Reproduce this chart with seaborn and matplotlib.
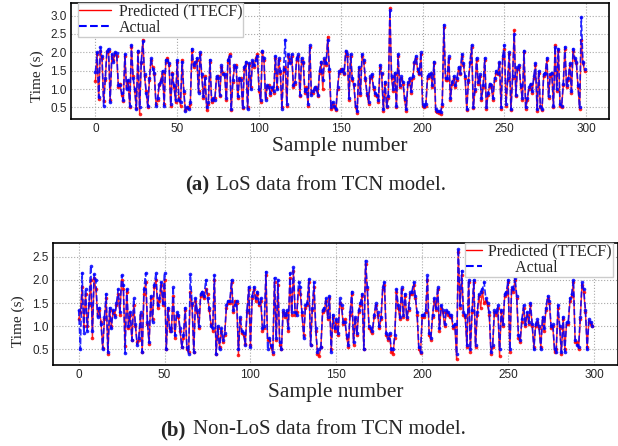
import numpy as np
import pandas as pd
import matplotlib
matplotlib.use("Agg")
import matplotlib.pyplot as plt
from matplotlib.lines import Line2D
import seaborn as sns

# LoS data, TCN model
los_actual = [
    1.47, 2.0, 0.78, 2.15, 1.9, 0.55, 1.3, 2.05, 2.1, 0.65,
    1.95, 1.75, 2.0, 1.98, 1.1, 1.1, 0.9, 0.7, 1.95, 1.0,
    1.25, 0.55, 2.2, 1.3, 1.0, 0.45, 2.05, 0.5, 1.75, 2.3,
    1.4, 0.9, 0.55, 1.3, 1.85, 1.55, 1.45, 0.55, 0.75, 1.15,
    1.2, 1.5, 0.55, 1.8, 1.8, 1.7, 0.6, 1.4, 1.1, 0.7,
    1.8, 0.7, 0.65, 1.75, 0.95, 0.4, 0.5, 0.45, 0.65, 2.1,
    1.65, 1.75, 1.85, 0.9, 2.0, 1.4, 0.8, 1.3, 0.5, 0.65,
    1.8, 0.7, 0.75, 0.7, 1.35, 1.3, 0.85, 1.65, 1.4, 1.4,
    0.75, 1.8, 1.9, 0.45, 1.25, 1.65, 1.6, 0.8, 1.3, 1.25,
    0.5, 1.6, 1.75, 0.45, 1.7, 1.0, 1.8, 1.65, 1.8, 1.9,
    1.0, 0.7, 2.05, 1.85, 0.7, 1.1, 1.05, 0.9, 1.05, 0.95,
    1.9, 1.0, 1.85, 1.5, 0.45, 1.55, 2.35, 0.6, 1.95, 1.7,
    1.95, 1.1, 1.2, 1.85, 1.95, 0.85, 1.85, 1.75, 0.95, 1.0,
    0.6, 2.2, 0.85, 0.95, 1.05, 1.0, 0.85, 1.5, 1.75, 1.25,
    1.85, 1.7, 2.35, 1.55, 0.5, 0.65, 0.55, 0.45, 1.05, 1.5,
    1.5, 1.55, 1.45, 2.05, 1.95, 0.75, 1.95, 1.3, 1.15, 0.55,
    0.4, 1.6, 0.9, 1.95, 1.8, 1.3, 0.9, 0.65, 1.35, 1.4,
    1.05, 0.9, 0.85, 0.7, 1.65, 1.45, 0.45, 1.2, 0.55, 0.8,
    3.15, 1.35, 1.0, 1.45, 0.55, 1.95, 1.1, 1.35, 1.2, 0.75,
    0.45, 1.2, 1.3, 0.95, 1.35, 1.75, 1.9, 1.55, 1.45, 2.0,
    0.6, 0.55, 0.6, 1.35, 1.4, 1.45, 1.1, 1.75, 0.45, 0.4,
    0.4, 0.38, 0.6, 2.75, 1.3, 1.3, 1.9, 0.75, 1.2, 1.35,
    1.1, 1.3, 1.6, 1.45, 1.95, 1.7, 1.35, 0.45, 1.25, 1.75,
    2.2, 0.5, 1.0, 1.85, 1.2, 1.4, 0.75, 1.1, 1.85, 0.5,
    0.9, 1.15, 1.1, 0.75, 1.3, 1.5, 1.45, 1.75, 0.5, 1.9,
    2.2, 0.6, 1.3, 2.0, 0.45, 1.35, 2.5, 0.85, 1.6, 1.65,
    1.1, 0.75, 2.05, 0.5, 0.75, 1.05, 1.15, 0.95, 1.35, 1.7,
    0.45, 1.5, 0.55, 0.45, 1.4, 1.45, 1.85, 0.8, 1.4, 1.45,
    0.55, 2.15, 1.0, 2.1, 0.6, 0.55, 1.15, 2.15, 1.1, 1.3,
    1.7, 0.95, 2.1, 1.85, 1.75, 1.1, 0.5, 2.95, 1.75, 1.55,
]
los_pred = [
    1.22, 1.95, 0.72, 2.05, 1.85, 0.68, 1.25, 2.0, 2.05, 0.7,
    1.9, 1.8, 1.95, 1.9, 1.05, 1.15, 0.85, 0.68, 1.9, 1.05,
    1.2, 0.5, 2.15, 1.35, 0.95, 0.48, 2.0, 0.33, 1.7, 2.35,
    1.35, 0.95, 0.5, 1.25, 1.8, 1.6, 1.4, 0.6, 0.7, 1.1,
    1.25, 1.45, 0.6, 1.75, 1.85, 1.65, 0.55, 1.45, 1.05, 0.65,
    1.75, 0.75, 0.55, 1.8, 0.9, 0.42, 0.48, 0.5, 0.6, 2.05,
    1.6, 1.7, 1.8, 0.95, 1.95, 1.35, 0.75, 1.35, 0.42, 0.6,
    1.75, 0.65, 0.7, 0.75, 1.3, 1.35, 0.8, 1.6, 1.45, 1.35,
    0.7, 1.75, 1.95, 0.42, 1.2, 1.6, 1.65, 0.75, 1.25, 1.3,
    0.48, 1.55, 1.7, 0.5, 1.65, 1.05, 1.75, 1.6, 1.85, 1.95,
    0.95, 0.65, 2.0, 1.8, 0.75, 1.05, 1.1, 0.85, 1.0, 0.9,
    1.85, 1.05, 1.8, 1.45, 0.5, 1.5, 1.6, 0.55, 1.9, 1.75,
    1.9, 1.05, 1.15, 1.8, 1.9, 0.8, 1.8, 1.7, 0.9, 1.05,
    0.55, 2.15, 0.9, 0.9, 1.0, 1.05, 0.8, 1.45, 1.7, 1.0,
    1.8, 1.65, 2.42, 1.5, 0.45, 0.6, 0.5, 0.42, 1.0, 1.45,
    1.55, 1.5, 1.4, 2.0, 1.9, 0.7, 1.9, 1.25, 1.1, 0.5,
    0.35, 1.55, 0.85, 1.9, 1.75, 1.25, 0.85, 0.6, 1.3, 1.35,
    1.0, 0.85, 0.8, 0.65, 1.6, 1.4, 0.4, 1.15, 0.5, 0.75,
    3.2, 1.3, 0.95, 1.4, 0.5, 1.9, 1.05, 1.3, 1.15, 0.7,
    0.4, 1.15, 1.25, 0.9, 1.3, 1.7, 1.85, 1.5, 1.4, 1.95,
    0.55, 0.5, 0.55, 1.3, 1.35, 1.4, 1.05, 1.7, 0.4, 0.38,
    0.35, 0.33, 0.55, 2.7, 1.25, 1.25, 1.85, 0.7, 1.15, 1.3,
    1.05, 1.25, 1.55, 1.4, 1.9, 1.65, 1.3, 0.42, 1.2, 1.7,
    2.15, 0.48, 0.95, 1.8, 1.15, 1.35, 0.7, 1.05, 1.8, 0.45,
    0.85, 1.1, 1.05, 0.7, 1.25, 1.45, 1.4, 1.7, 0.45, 1.85,
    2.1, 0.55, 1.25, 1.95, 0.42, 1.3, 2.6, 0.8, 1.55, 1.6,
    1.05, 0.7, 2.0, 0.45, 0.7, 1.0, 1.1, 0.9, 1.3, 1.65,
    0.4, 1.45, 0.5, 0.42, 1.35, 1.4, 1.8, 0.75, 1.35, 1.4,
    0.5, 2.2, 0.95, 2.05, 0.55, 0.5, 1.1, 2.1, 1.05, 1.25,
    1.65, 0.9, 2.05, 1.8, 1.7, 1.05, 0.45, 2.35, 1.7, 1.5,
]

# Non-LoS data, TCN model
nlos_actual = [
    1.35, 0.5, 2.15, 0.85, 1.8, 0.9, 1.5, 2.3, 0.9, 2.12,
    2.0, 1.2, 1.4, 1.05, 0.5, 1.2, 1.7, 0.45, 1.4, 0.95,
    1.35, 1.2, 1.5, 1.8, 1.3, 2.1, 1.9, 0.42, 1.8, 1.0,
    1.3, 0.7, 1.6, 1.05, 0.6, 0.75, 1.3, 0.45, 1.8, 2.15,
    1.1, 0.65, 1.65, 1.1, 1.9, 2.15, 1.45, 1.6, 1.95, 1.5,
    2.15, 0.5, 1.4, 0.95, 0.9, 1.85, 0.8, 1.3, 1.25, 0.95,
    0.55, 0.8, 1.4, 0.55, 0.4, 2.12, 1.5, 0.45, 1.6, 1.35,
    1.0, 1.7, 1.75, 1.65, 2.0, 1.6, 1.4, 1.0, 0.95, 2.1,
    0.4, 1.0, 0.5, 0.95, 0.7, 0.85, 1.45, 1.55, 1.55, 2.0,
    1.35, 1.45, 1.55, 0.5, 1.2, 0.9, 0.85, 0.6, 1.35, 1.85,
    0.55, 1.65, 1.85, 1.6, 1.75, 1.5, 1.6, 0.95, 1.0, 2.18,
    0.5, 0.75, 0.6, 0.45, 2.05, 0.75, 2.0, 0.65, 0.5, 1.35,
    1.25, 1.35, 0.95, 2.15, 1.3, 2.28, 1.3, 1.25, 1.95, 1.85,
    1.3, 0.75, 1.45, 1.5, 2.02, 0.6, 1.4, 1.95, 0.95, 0.45,
    0.5, 0.55, 1.35, 1.4, 1.6, 1.2, 1.65, 0.45, 1.25, 0.95,
    1.15, 0.85, 1.6, 1.45, 1.1, 1.1, 0.8, 0.6, 1.3, 1.75,
    0.65, 1.2, 0.85, 1.35, 1.5, 1.7, 0.5, 2.42, 1.85, 1.0,
    0.95, 0.9, 1.25, 1.5, 1.3, 1.0, 1.2, 1.85, 1.95, 0.85,
    0.75, 0.85, 0.5, 0.5, 0.8, 1.8, 1.45, 1.2, 1.85, 1.25,
    1.7, 1.2, 1.4, 1.75, 1.75, 1.95, 1.65, 1.3, 0.55, 0.45,
    1.25, 1.25, 1.35, 2.1, 0.85, 0.75, 1.25, 1.6, 1.4, 1.85,
    0.95, 1.45, 1.35, 1.05, 1.35, 1.3, 1.25, 1.25, 1.0, 1.05,
    0.4, 2.68, 1.45, 2.2, 1.3, 1.25, 0.6, 2.0, 0.5, 1.35,
    2.0, 0.6, 1.3, 1.7, 1.75, 1.8, 1.95, 1.6, 1.5, 1.3,
    0.45, 0.6, 1.35, 1.3, 1.45, 0.5, 1.35, 1.05, 1.7, 1.75,
    2.0, 0.5, 1.85, 1.8, 2.05, 1.65, 0.8, 0.7, 1.15, 1.45,
    1.05, 1.3, 1.1, 1.5, 1.05, 0.5, 1.05, 1.15, 1.0, 0.5,
    1.2, 0.95, 1.4, 1.65, 1.55, 1.0, 1.05, 0.5, 0.45, 1.45,
    1.0, 0.45, 1.2, 0.45, 1.1, 1.1, 1.6, 1.7, 2.0, 0.7,
    0.6, 0.55, 1.2, 1.95, 1.8, 1.35, 0.5, 1.15, 1.1, 1.0,
]
nlos_pred = [
    1.15, 1.3, 1.85, 1.0, 1.7, 1.0, 1.45, 2.0, 0.75, 2.05,
    1.8, 1.25, 1.35, 1.1, 0.52, 1.15, 1.6, 0.4, 1.35, 1.0,
    1.3, 1.25, 1.45, 1.7, 1.25, 2.0, 1.8, 0.58, 1.75, 0.95,
    1.25, 0.7, 1.45, 1.0, 0.65, 0.7, 1.25, 0.45, 1.7, 1.95,
    1.05, 0.62, 1.6, 1.15, 1.85, 2.0, 1.4, 1.55, 1.9, 1.45,
    2.0, 0.5, 1.35, 0.9, 0.95, 1.65, 0.75, 1.25, 1.2, 0.9,
    0.55, 0.75, 1.35, 0.5, 0.45, 1.75, 1.45, 0.45, 1.55, 1.3,
    0.95, 1.65, 1.7, 1.6, 1.8, 1.7, 1.35, 1.05, 0.9, 2.0,
    0.4, 0.95, 0.55, 0.9, 0.65, 0.8, 1.4, 1.5, 1.5, 1.95,
    1.3, 1.55, 1.5, 0.38, 1.15, 0.85, 0.8, 0.62, 1.3, 1.8,
    0.6, 1.6, 1.8, 1.55, 1.7, 1.45, 1.55, 0.9, 0.95, 2.1,
    0.7, 0.7, 0.55, 0.4, 1.95, 0.7, 1.9, 0.6, 0.5, 1.3,
    1.2, 1.3, 0.9, 2.05, 1.25, 2.2, 1.25, 1.3, 1.8, 1.7,
    1.25, 0.8, 1.4, 1.45, 1.95, 0.6, 1.35, 1.85, 0.9, 0.4,
    0.35, 0.55, 1.3, 1.35, 1.55, 1.15, 1.6, 0.5, 1.2, 0.9,
    1.1, 0.8, 1.5, 1.4, 1.05, 1.15, 0.75, 0.55, 1.25, 1.7,
    0.6, 1.15, 0.8, 1.3, 1.45, 1.65, 0.5, 2.35, 1.8, 0.95,
    0.9, 0.85, 1.2, 1.45, 1.25, 0.95, 1.15, 1.8, 1.9, 0.8,
    0.7, 0.8, 0.45, 0.4, 0.75, 1.75, 1.4, 1.15, 1.8, 1.2,
    1.65, 1.15, 1.35, 1.7, 1.7, 1.9, 1.6, 1.25, 0.5, 0.42,
    1.2, 1.2, 1.3, 2.0, 0.8, 0.7, 1.2, 1.55, 1.35, 1.8,
    0.9, 1.4, 1.3, 1.0, 1.3, 1.25, 1.2, 1.2, 0.95, 1.0,
    0.28, 2.6, 1.4, 2.1, 1.25, 1.2, 0.55, 1.95, 0.45, 1.3,
    1.95, 0.55, 1.25, 1.65, 1.4, 1.75, 1.5, 1.55, 1.45, 1.25,
    0.4, 0.55, 1.3, 1.25, 1.4, 0.35, 1.3, 1.0, 1.65, 1.7,
    1.95, 0.45, 1.8, 1.75, 2.0, 1.6, 0.75, 0.65, 1.1, 1.4,
    1.0, 1.25, 1.05, 1.45, 1.0, 0.55, 1.0, 1.1, 0.95, 0.55,
    1.15, 0.9, 1.35, 1.6, 1.5, 0.95, 1.0, 0.45, 0.5, 1.4,
    0.95, 0.4, 1.15, 0.5, 1.05, 1.05, 1.55, 1.65, 1.95, 0.65,
    0.65, 0.5, 1.15, 1.9, 1.75, 1.3, 0.55, 1.1, 1.05, 1.0,
]

x_ticks = [0, 50, 100, 150, 200, 250, 300]
los_yticks = [0.5, 1.0, 1.5, 2.0, 2.5, 3.0]
nlos_yticks = [0.5, 1.0, 1.5, 2.0, 2.5]

sns.set_style("whitegrid", {"grid.linestyle": ":", "grid.color": "#a8a8a8",
                            "axes.edgecolor": "black"})
serif = ["Liberation Serif", "DejaVu Serif"]
tickfont = ["Liberation Sans", "DejaVu Sans"]

fig = plt.figure(figsize=(6.18, 4.46), dpi=100)
ax1 = fig.add_axes([71 / 618, 1 - 119 / 446, 538 / 618, 116 / 446])
ax2 = fig.add_axes([53 / 618, 1 - 365 / 446, 565 / 618, 122 / 446])


def draw(ax, pred, actual, yticks):
    df = pd.DataFrame({"sample": np.arange(len(pred)), "pred": pred, "actual": actual})
    sns.lineplot(data=df, x="sample", y="pred", ax=ax, color="red", lw=1.0,
                 marker="o", markersize=2.6, markeredgewidth=0, alpha=0.85,
                 legend=False)
    sns.lineplot(data=df, x="sample", y="actual", ax=ax, color="blue", lw=1.2,
                 linestyle="--", marker="o", markersize=2.6, markeredgewidth=0,
                 alpha=0.85, legend=False)
    ax.set_xticks(x_ticks)
    ax.set_yticks(yticks)
    for lab in ax.get_xticklabels() + ax.get_yticklabels():
        lab.set_fontfamily(tickfont)
        lab.set_fontsize(8.5)
    ax.tick_params(length=0, pad=3)
    for s in ax.spines.values():
        s.set_linewidth(1.2)
        s.set_color("black")
    ax.set_xlabel("Sample number", family=serif, fontsize=15.5, labelpad=1)
    ax.set_ylabel("Time (s)", family=serif, fontsize=11)


draw(ax1, los_pred, los_actual, los_yticks)
draw(ax2, nlos_pred, nlos_actual, nlos_yticks)
ax1.yaxis.set_label_coords(-0.05, 0.37)
ax2.yaxis.set_label_coords(-0.05, 0.36)

handles = [Line2D([], [], color="red", lw=1.0),
           Line2D([], [], color="blue", lw=1.5, linestyle="--")]
leg_style = dict(loc="upper left", bbox_transform=fig.transFigure, borderaxespad=0,
                 prop={"family": serif, "size": 11.5}, labelspacing=0.0,
                 borderpad=0.05, fancybox=False, edgecolor="#cccccc", framealpha=1)
ax1.legend(handles, ["Predicted (TTECF)", "Actual"],
           bbox_to_anchor=(78 / 618, 1 - 3 / 446),
           handlelength=2.0, handletextpad=0.5, **leg_style)
ax2.legend(handles, ["Predicted (TTECF)", "       Actual"],
           bbox_to_anchor=(465 / 618, 1 - 243 / 446),
           handlelength=1.0, handletextpad=0.4, **leg_style)

cap_size = 15
fig.text(185 / 618, 1 - 185 / 446, "(a)", family=serif, fontsize=cap_size,
         fontweight="bold", va="center", ha="left")
fig.text(216 / 618, 1 - 185 / 446, "LoS data from TCN model.", family=serif,
         fontsize=cap_size, va="center", ha="left")
fig.text(160 / 618, 1 - 430 / 446, "(b)", family=serif, fontsize=cap_size,
         fontweight="bold", va="center", ha="left")
fig.text(193 / 618, 1 - 430 / 446, "Non-LoS data from TCN model.", family=serif,
         fontsize=cap_size, va="center", ha="left")

fig.savefig("out.png", dpi=100)
